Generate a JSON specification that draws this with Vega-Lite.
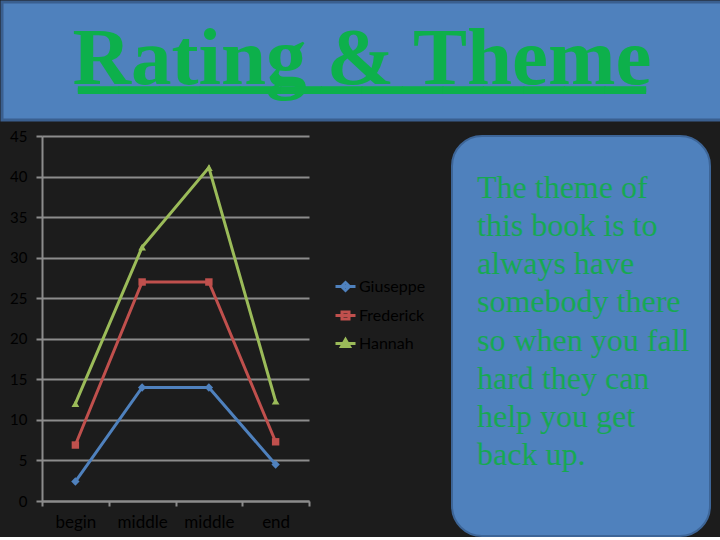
{
  "$schema": "https://vega.github.io/schema/vega-lite/v6.json",
  "background": "#1c1c1c",
  "padding": 0,
  "datasets": {
    "heading": [
      {"text": "Rating & Theme"}
    ],
    "ratings": [
      {"name": "Giuseppe", "stage": "begin", "score": 2.4},
      {"name": "Giuseppe", "stage": "middle 1", "score": 14},
      {"name": "Giuseppe", "stage": "middle 2", "score": 14},
      {"name": "Giuseppe", "stage": "end", "score": 4.5},
      {"name": "Frederick", "stage": "begin", "score": 6.9},
      {"name": "Frederick", "stage": "middle 1", "score": 27},
      {"name": "Frederick", "stage": "middle 2", "score": 27},
      {"name": "Frederick", "stage": "end", "score": 7.3},
      {"name": "Hannah", "stage": "begin", "score": 12},
      {"name": "Hannah", "stage": "middle 1", "score": 31.3},
      {"name": "Hannah", "stage": "middle 2", "score": 41.1},
      {"name": "Hannah", "stage": "end", "score": 12.3}
    ],
    "theme": [
      {"line": 1, "text": "The theme of"},
      {"line": 2, "text": "this book is to"},
      {"line": 3, "text": "always have"},
      {"line": 4, "text": "somebody there"},
      {"line": 5, "text": "so when you fall"},
      {"line": 6, "text": "hard they can"},
      {"line": 7, "text": "help you get"},
      {"line": 8, "text": "back up."}
    ]
  },
  "spacing": 7,
  "vconcat": [
    {
      "width": 720,
      "height": 118,
      "data": {"name": "heading"},
      "view": {"fill": "#4f81bd", "stroke": "#3a5f8f", "strokeWidth": 3},
      "layer": [
        {
          "mark": {
            "type": "text",
            "font": "Liberation Serif",
            "fontSize": 81,
            "fontWeight": "bold",
            "color": "#0db04b",
            "baseline": "alphabetic",
            "dy": 23
          },
          "encoding": {"text": {"field": "text"}}
        },
        {
          "mark": {
            "type": "text",
            "text": "______________",
            "font": "Liberation Serif",
            "fontSize": 81,
            "fontWeight": "bold",
            "color": "#0db04b",
            "baseline": "alphabetic",
            "dy": 20
          }
        },
        {
          "mark": {
            "type": "text",
            "text": "______________",
            "font": "Liberation Serif",
            "fontSize": 81,
            "fontWeight": "bold",
            "color": "#0db04b",
            "baseline": "alphabetic",
            "dy": 22
          }
        }
      ]
    },
    {
      "bounds": "flush",
      "spacing": 143,
      "hconcat": [
        {
          "width": 307,
          "height": 365,
          "data": {"name": "ratings"},
          "encoding": {
            "x": {
              "field": "stage",
              "type": "nominal",
              "sort": ["begin", "middle 1", "middle 2", "end"],
              "scale": {"type": "band", "paddingInner": 0, "paddingOuter": 0, "range": [40, 307]},
              "axis": {
                "title": null,
                "labelAngle": 0,
                "labelExpr": "split(datum.label, ' ')[0]",
                "tickBand": "extent",
                "tickSize": 5,
                "labelPadding": 8,
                "labelFontSize": 17
              }
            },
            "y": {
              "field": "score",
              "type": "quantitative",
              "scale": {"domain": [0, 45], "nice": false},
              "axis": {
                "title": null,
                "values": [0, 5, 10, 15, 20, 25, 30, 35, 40, 45],
                "grid": true,
                "offset": -40,
                "tickSize": 6,
                "labelPadding": 9,
                "labelFontSize": 15
              }
            }
          },
          "layer": [
            {
              "mark": {"type": "line", "strokeWidth": 3},
              "encoding": {
                "stroke": {
                  "field": "name",
                  "type": "nominal",
                  "scale": {
                    "domain": ["Giuseppe", "Frederick", "Hannah"],
                    "range": ["#4f81bd", "#c0504d", "#9bbb59"]
                  }
                }
              }
            },
            {
              "transform": [{"filter": "datum.name === 'Giuseppe'"}],
              "mark": {"type": "point", "shape": "diamond", "filled": true, "size": 70, "opacity": 1, "color": "#4f81bd"}
            },
            {
              "transform": [{"filter": "datum.name === 'Frederick'"}],
              "mark": {"type": "point", "shape": "square", "filled": true, "size": 55, "opacity": 1, "color": "#c0504d"}
            },
            {
              "transform": [{"filter": "datum.name === 'Hannah'"}],
              "mark": {"type": "point", "shape": "triangle-up", "filled": true, "size": 60, "opacity": 1, "color": "#9bbb59"}
            },
            {
              "mark": {"type": "point", "filled": true, "strokeWidth": 3, "opacity": 0},
              "encoding": {
                "fill": {
                  "field": "name",
                  "type": "nominal",
                  "scale": {
                    "domain": ["Giuseppe", "Frederick", "Hannah"],
                    "range": ["#4f81bd", "#c0504d", "#9bbb59"]
                  },
                  "legend": {
                    "orient": "none",
                    "legendX": 332,
                    "legendY": 273,
                    "title": null,
                    "padding": 0,
                    "symbolSize": 400,
                    "symbolStrokeWidth": 3,
                    "symbolOpacity": 1,
                    "rowPadding": 7,
                    "labelOffset": 2,
                    "labelFont": "Lato",
                    "labelFontSize": 16,
                    "labelColor": "#000000"
                  }
                },
                "stroke": {
                  "field": "name",
                  "type": "nominal"
                },
                "shape": {
                  "field": "name",
                  "type": "nominal",
                  "scale": {
                    "domain": ["Giuseppe", "Frederick", "Hannah"],
                    "range": [
                      "M-1,0H1M0,-0.4L0.4,0L0,0.4L-0.4,0Z",
                      "M-1,0H1M-0.35,-0.35H0.35V0.35H-0.35Z",
                      "M-1,0H1M0,-0.4L0.4,0.3H-0.4Z"
                    ]
                  }
                }
              }
            }
          ]
        },
        {
          "width": 258,
          "height": 400,
          "data": {"name": "theme"},
          "view": {"fill": "#4f81bd", "stroke": "#3d6597", "strokeWidth": 2, "cornerRadius": 30},
          "mark": {
            "type": "text",
            "font": "Liberation Serif",
            "fontSize": 32,
            "color": "#17a853",
            "align": "left",
            "baseline": "alphabetic",
            "dx": -104
          },
          "encoding": {
            "y": {
              "field": "line",
              "type": "quantitative",
              "scale": {"domain": [-0.626, 9.862], "reverse": true, "nice": false, "zero": false},
              "axis": null
            },
            "text": {"field": "text"}
          }
        }
      ]
    }
  ],
  "config": {
    "view": {"stroke": null},
    "axis": {
      "labelFont": "Lato",
      "labelColor": "#000000",
      "domainColor": "#8c8c8c",
      "domainWidth": 2,
      "tickColor": "#8c8c8c",
      "tickWidth": 2,
      "gridColor": "#8c8c8c",
      "gridWidth": 2,
      "gridOpacity": 1
    }
  }
}
